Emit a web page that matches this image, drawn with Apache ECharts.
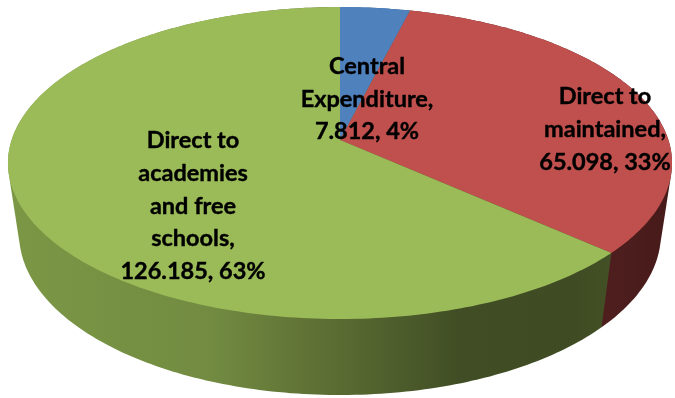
<!DOCTYPE html>
<html>
<head>
<meta charset="utf-8">
<title>School funding by route</title>
<style>html,body{margin:0;padding:0;background:#fff}#chart{width:675px;height:398px}</style>
<script src="https://cdn.jsdelivr.net/npm/echarts@6/dist/echarts.min.js"></script>
</head>
<body>
<div id="chart"></div>
<script>
// Funding routes, clockwise from twelve o'clock
const names = ['Central Expenditure', 'Direct to maintained', 'Direct to academies and free schools'];
const values = [7.812, 65.098, 126.185];
const topColors = ['#4F81BD', '#C0504D', '#9BBB59'];
const labelBreaks = [
  ['Central', 'Expenditure,'],
  ['Direct to', 'maintained,'],
  ['Direct to', 'academies', 'and free', 'schools,']
];

// Perspective view of the disc: a unit circle tilted towards the viewer, with thickness
const view = { cx: 340, cy: 140, a: 328.4, b: 152.6, k: 0.1475, depth: 73.5, shrink: 0.034 };
const labelAnchors = [[367, 99], [605, 129.5], [193, 206]];
const wallStops = [
  [{ offset: 0, color: '#4f81bd' }, { offset: 1, color: '#2c4d75' }],
  [{ offset: 0.9, color: '#4f1f1e' }, { offset: 1, color: '#471b1a' }],
  [{ offset: 0, color: '#7b9745' }, { offset: 0.3, color: '#728b41' }, { offset: 0.5, color: '#5a6b32' },
   { offset: 0.68, color: '#414e25' }, { offset: 0.85, color: '#3f4b23' }, { offset: 1, color: '#485728' }]
];

const total = values.reduce((s, v) => s + v, 0);
let acc = 0;
const spans = values.map(v => {
  const from = acc / total * Math.PI * 2;
  acc += v;
  return [from, acc / total * Math.PI * 2];
});

function project(theta, z) {
  const u = Math.sin(theta);
  const v = -Math.cos(theta);
  const w = 1 - view.k * v + view.shrink * z;
  return [view.cx + view.a * u / w, view.cy + (view.b * v + view.depth * z) / w];
}

function rim(from, to, z) {
  const steps = Math.max(2, Math.ceil((to - from) / (Math.PI / 180)));
  const pts = [];
  for (let i = 0; i <= steps; i++) pts.push(project(from + (to - from) * i / steps, z));
  return pts;
}

// Outline of a slice's wall, so the tangent edges between top and bottom rims are closed
function hull(points) {
  const p = points.slice().sort((m, n) => m[0] - n[0] || m[1] - n[1]);
  const cross = (o, m, n) => (m[0] - o[0]) * (n[1] - o[1]) - (m[1] - o[1]) * (n[0] - o[0]);
  const half = list => {
    const out = [];
    for (const q of list) {
      while (out.length > 1 && cross(out[out.length - 2], out[out.length - 1], q) <= 0) out.pop();
      out.push(q);
    }
    out.pop();
    return out;
  };
  return half(p).concat(half(p.slice().reverse()));
}

function renderWall(params) {
  const i = params.dataIndex;
  const [from, to] = spans[i];
  return {
    type: 'polygon',
    shape: { points: hull(rim(from, to, 0).concat(rim(from, to, 1))) },
    style: {
      fill: { type: 'linear', x: 15, y: 0, x2: 665, y2: 0, global: true, colorStops: wallStops[i] }
    }
  };
}

function renderTop(params) {
  const i = params.dataIndex;
  const [from, to] = spans[i];
  return {
    type: 'polygon',
    shape: { points: [[view.cx, view.cy]].concat(rim(from, to, 0)) },
    style: { fill: topColors[i] }
  };
}

function renderLabel(params) {
  const i = params.dataIndex;
  const pct = Math.round(values[i] / total * 100);
  const lines = labelBreaks[i].concat(values[i].toFixed(3) + ', ' + pct + '%');
  return {
    type: 'text',
    x: labelAnchors[i][0],
    y: labelAnchors[i][1],
    style: {
      text: lines.join('\n'),
      fill: '#000',
      stroke: '#000',
      lineWidth: 0.4,
      font: 'bold 23.5px Lato',
      lineHeight: 32.8,
      align: 'center',
      verticalAlign: 'middle'
    }
  };
}

const chart = echarts.init(document.getElementById('chart'), null, { renderer: 'canvas' });
const rows = names.map((n, i) => ({ name: n, value: values[i] }));
chart.setOption({
  animation: false,
  backgroundColor: '#fff',
  series: [
    { type: 'custom', coordinateSystem: 'none', data: rows, renderItem: renderWall, silent: true, z: 1 },
    { type: 'custom', coordinateSystem: 'none', data: rows, renderItem: renderTop, silent: true, z: 2 },
    { type: 'custom', coordinateSystem: 'none', data: rows, renderItem: renderLabel, silent: true, z: 3 }
  ]
});
</script>
</body>
</html>
